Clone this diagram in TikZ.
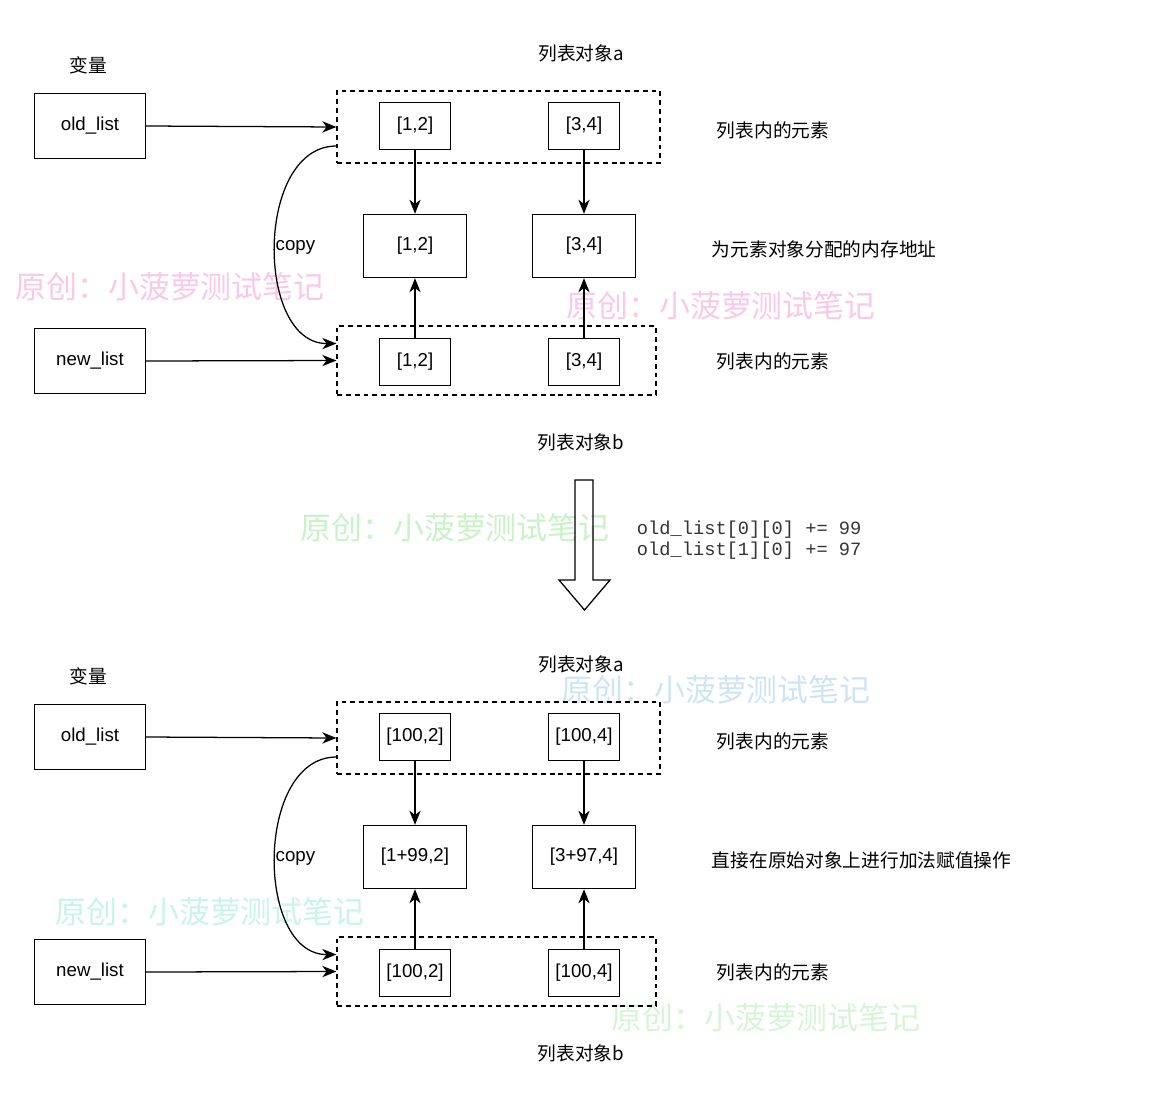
\documentclass[tikz,border=0pt]{standalone}
\usepackage{fontspec}
\setmainfont{Liberation Sans}
\setmonofont{Liberation Mono}
\newfontfamily\cjk{Noto Sans CJK SC}
\usetikzlibrary{arrows.meta}
\newcommand\txtsize{\fontsize{13.3}{16}\selectfont}
\definecolor{wmpink}{RGB}{250,200,232}
\definecolor{wmgreen}{RGB}{200,242,200}
\definecolor{wmblue}{RGB}{205,228,245}
\definecolor{wmcyan}{RGB}{200,244,234}
\definecolor{wmlime}{RGB}{214,245,214}
\tikzset{
    var/.style={draw, line width=1pt, minimum width=2.775cm, minimum height=1.625cm},
    elem/.style={draw, line width=1pt, minimum width=1.775cm, minimum height=1.175cm, inner sep=1pt},
    addr/.style={draw, line width=1pt, minimum width=2.575cm, minimum height=1.575cm, inner sep=1pt},
    group/.style={draw, line width=.8pt, dash pattern=on 3.5pt off 2.8pt},
    ptr/.style={-{Stealth[length=10pt,width=8pt,inset=3pt]}, line width=.9pt},
    label/.style={font=\cjk\txtsize},
    note/.style={font=\cjk\txtsize, anchor=west},
    wmark/.style={font=\cjk\fontsize{22}{26}\selectfont}
}
\begin{document}
\begin{tikzpicture}[x=0.025cm, y=-0.025cm, font=\txtsize]
\useasboundingbox (0,0) rectangle (1170,1118);
% watermarks
    \node[wmark, text=wmpink] (wm1) at (170,287) {原创：小菠萝测试笔记};
    \node[wmark, text=wmpink] (wm2) at (721,306) {原创：小菠萝测试笔记};
    \node[wmark, text=wmgreen] (wm3) at (455,528) {原创：小菠萝测试笔记};
    \node[wmark, text=wmblue] (wm4) at (716,690) {原创：小菠萝测试笔记};
    \node[wmark, text=wmcyan] (wm5) at (210,912) {原创：小菠萝测试笔记};
    \node[wmark, text=wmlime] (wm6) at (766,1018) {原创：小菠萝测试笔记};
% before and after
    \foreach \dy/\h/\ea/\eb/\ma/\mb/\mnote in {0/t/{[1,2]}/{[3,4]}/{[1,2]}/{[3,4]}/为元素对象分配的内存地址,
        611/b/{[100,2]}/{[100,4]}/{[1+99,2]}/{[3+97,4]}/直接在原始对象上进行加法赋值操作}{
        \node[label] (vars\h) at (88,65+\dy) {变量};
        \node[var] (old\h) at (90,126+\dy) {old\_list};
        \node[var] (new\h) at (90,361+\dy) {new\_list};
        \node[label] (tla\h) at (581,53+\dy) {列表对象a};
        \node[label] (tlb\h) at (581,442+\dy) {列表对象b};
        \node[group, minimum width=8.075cm, minimum height=1.8cm] (lsta\h) at (498.5,127+\dy) {};
        \node[group, minimum width=7.975cm, minimum height=1.725cm] (lstb\h) at (496.5,360.5+\dy) {};
        \node[elem] (a1\h) at (415,126+\dy) {\ea};
        \node[elem] (a2\h) at (584,126+\dy) {\eb};
        \node[elem] (b1\h) at (415,362+\dy) {\ea};
        \node[elem] (b2\h) at (584,362+\dy) {\eb};
        \node[addr] (m1\h) at (415,246+\dy) {\ma};
        \node[addr] (m2\h) at (584,246+\dy) {\mb};
        \node[note] (na\h) at (712,130+\dy) {列表内的元素};
        \node[note] (nm\h) at (707,249+\dy) {\mnote};
        \node[note] (nb\h) at (712,361+\dy) {列表内的元素};
        \node[anchor=west, inner sep=1pt] (cp\h) at (274,247+\dy) {copy};
        \draw[ptr] (old\h.east) -- (lsta\h.west);
        \draw[ptr] (new\h.east) -- (lstb\h.west);
        \draw[ptr] ([yshift=-0.475cm]lsta\h.west) .. controls (255,146+\dy) and (255,344+\dy) .. ([yshift=0.425cm]lstb\h.west);
        \foreach \i in {1,2}{
            \draw[ptr] (a\i\h.south) -- (m\i\h.north);
            \draw[ptr] (b\i\h.north) -- (m\i\h.south);
        }
    }
% operation
    \draw[line width=.9pt] (575,480) coordinate (shaft) -- (593,480) -- (593,580) -- (610,580)
        -- (584.5,610) coordinate (tip) -- (559,580) -- (575,580) -- cycle;
    \node[anchor=west, align=left, text=black!80, font=\ttfamily\fontsize{13.3}{15}\selectfont] (code) at (632,540)
        {old\_list[0][0] += 99\\old\_list[1][0] += 97};
\end{tikzpicture}
\end{document}
